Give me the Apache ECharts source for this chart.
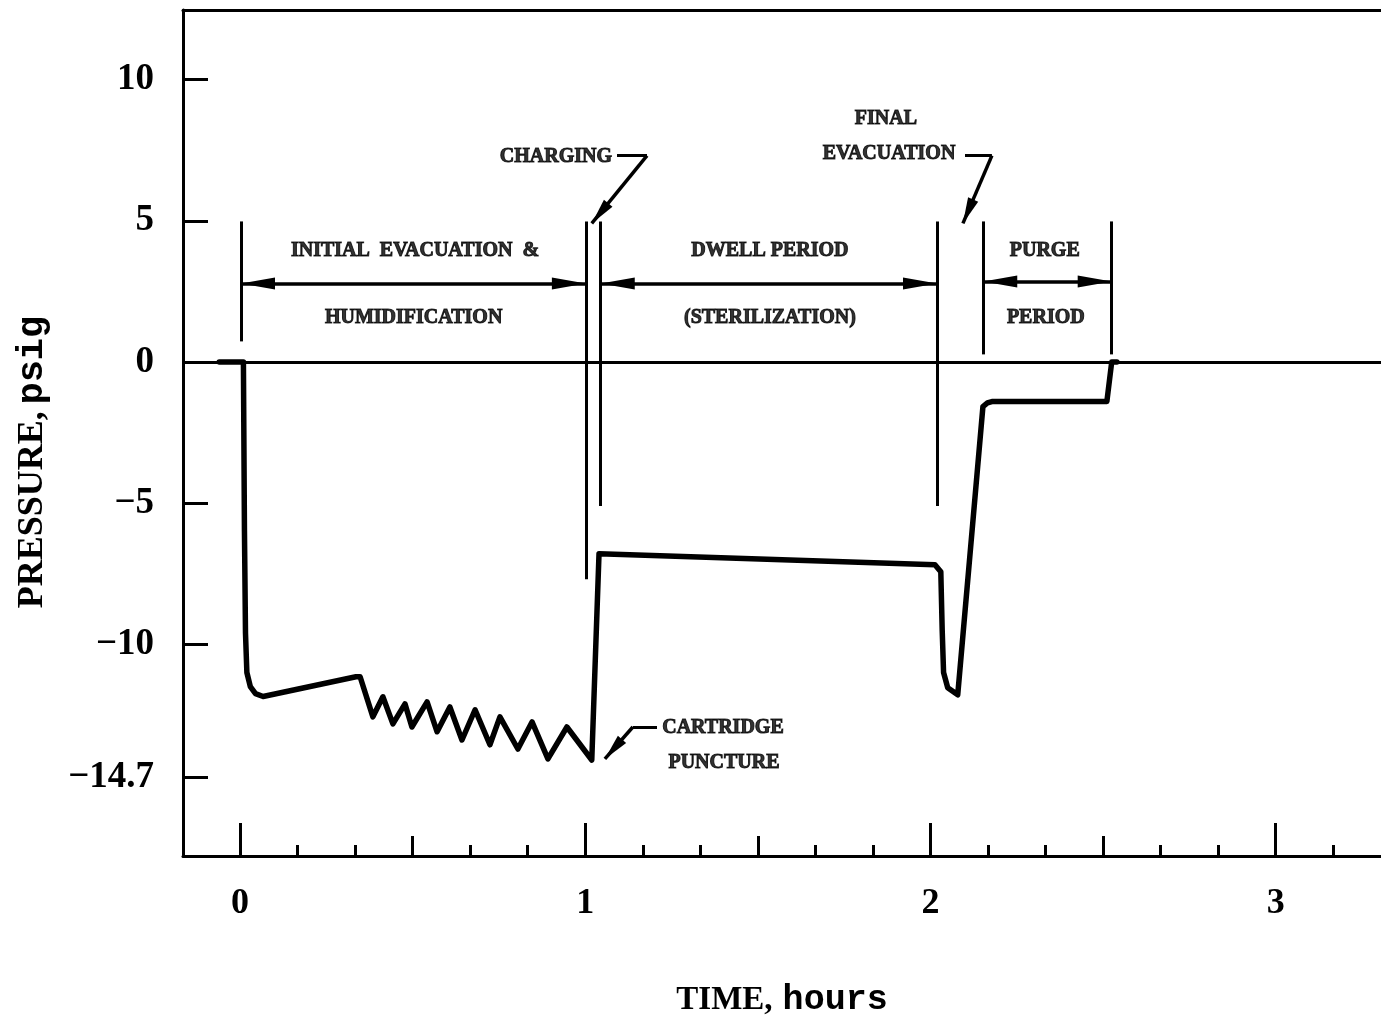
<!DOCTYPE html>
<html>
<head>
<meta charset="utf-8">
<script src="https://cdn.jsdelivr.net/npm/echarts@6/dist/echarts.min.js"></script>
<style>html,body{margin:0;padding:0;background:#fff}#chart{width:1381px;height:1020px}</style>
</head>
<body>
<div id="chart"></div>
<script>
// ---- data (time in hours, pressure in psig) ----
const timeHours = [-0.06, 0.010, 0.013, 0.016, 0.020, 0.030, 0.045, 0.067, 0.336, 0.348,
  0.385, 0.414, 0.443, 0.478, 0.498, 0.542, 0.571, 0.608, 0.643, 0.681,
  0.724, 0.753, 0.805, 0.846, 0.892, 0.947, 1.019, 1.040, 2.013, 2.030,
  2.034, 2.038, 2.050, 2.079, 2.152, 2.165, 2.178, 2.511, 2.525, 2.540];
const pressurePsig = [0, 0, -6.0, -9.6, -11.0, -11.5, -11.75, -11.85, -11.15, -11.15,
  -12.57, -11.86, -12.82, -12.11, -12.93, -12.04, -13.10, -12.22, -13.39, -12.32,
  -13.56, -12.57, -13.71, -12.75, -14.06, -12.93, -14.10, -6.79, -7.18, -7.43,
  -9.5, -11.0, -11.54, -11.79, -1.58, -1.45, -1.40, -1.40, 0, 0];

// ---- axis ticks / labels ----
const yTickLabels = [10, 5, 0, -5, -10, -14.7];
const yTickMarks = [10, 5, -5, -10, -14.7];
const xTickLabels = [0, 1, 2, 3];
const xHalfTicks = [0.5, 1.5, 2.5];
const xMinorTicks = [1/6, 2/6, 4/6, 5/6, 7/6, 8/6, 10/6, 11/6, 13/6, 14/6, 16/6, 17/6, 19/6];

// ---- annotations (data coordinates) ----
const phaseBounds = [ // [time, top, bottom]
  [0.003, 4.98, 0.73], [1.002, 4.98, -7.7], [1.045, 4.98, -5.1],
  [2.019, 4.98, -5.1], [2.153, 4.98, 0.27], [2.525, 4.98, 0.27]
];
const phaseArrows = [ // [from, to, level]
  [0.003, 1.002, 2.78], [1.045, 2.019, 2.78], [2.153, 2.525, 2.85]
];
const annotationTexts = [ // [text, time, level]
  ['INITIAL  EVACUATION  &', 0.507, 3.95], ['HUMIDIFICATION', 0.503, 1.58],
  ['DWELL PERIOD', 1.535, 3.95], ['(STERILIZATION)', 1.535, 1.58],
  ['PURGE', 2.331, 3.95], ['PERIOD', 2.334, 1.58],
  ['CHARGING', 0.915, 7.28], ['FINAL', 1.871, 8.62], ['EVACUATION', 1.880, 7.36],
  ['CARTRIDGE', 1.399, -12.96], ['PUNCTURE', 1.402, -14.2]
];
const calloutLeaders = [ // [corner, text end, arrow tip] as [time, level]
  [[1.179, 7.31], [1.092, 7.31], [1.019, 4.91]],
  [[2.178, 7.31], [2.100, 7.31], [2.094, 4.91]],
  [[1.138, -12.93], [1.208, -12.93], [1.057, -14.06]]
];

const X_MIN = -0.165, X_MAX = 3.305, Y_MIN = -17.5, Y_MAX = 12.47;
const ARROW = 'path://M5 0 L10 30 L0 30 Z';
const BLACK = '#000';
const serif = 'Liberation Serif';

function minusFmt(v) { return v < 0 ? '\u2212' + Math.abs(v) : String(v); }

const chart = echarts.init(document.getElementById('chart'), null, {renderer: 'canvas'});

const baseX = {type: 'value', min: X_MIN, max: X_MAX, gridIndex: 0, splitLine: {show: false}};

function arrowEnd(coord, w, h) {
  return {coord: coord, symbol: ARROW, symbolSize: [w, h], symbolOffset: [0, h / 2]};
}
function plainEnd(coord) {
  return {coord: coord, symbol: 'none'};
}

const option = {
  backgroundColor: '#fff',
  animation: false,
  grid: {left: 183, top: 10, right: 0, bottom: 164, containLabel: false, outerBoundsMode: 'none'},
  xAxis: [
    Object.assign({}, baseX, {
      position: 'bottom',
      axisLine: {show: true, onZero: false, lineStyle: {color: BLACK, width: 3}},
      axisTick: {show: true, inside: true, length: 33, customValues: xTickLabels, lineStyle: {color: BLACK, width: 3}},
      axisLabel: {show: true, customValues: xTickLabels, margin: 30, color: BLACK,
        fontFamily: serif, fontWeight: 'bold', fontSize: 36},
      name: '{s|TIME,}   {m|hours}', nameLocation: 'middle', nameGap: 127,
      nameTextStyle: {color: BLACK, rich: {
        s: {fontFamily: serif, fontWeight: 'bold', fontSize: 33, color: BLACK},
        m: {fontFamily: 'Liberation Mono', fontWeight: 'bold', fontSize: 35, color: BLACK}
      }}
    }),
    Object.assign({}, baseX, {
      position: 'bottom', axisLine: {show: false, onZero: false},
      axisTick: {show: true, inside: true, length: 20, customValues: xHalfTicks, lineStyle: {color: BLACK, width: 3}},
      axisLabel: {show: false}
    }),
    Object.assign({}, baseX, {
      position: 'bottom', axisLine: {show: false, onZero: false},
      axisTick: {show: true, inside: true, length: 11, customValues: xMinorTicks, lineStyle: {color: BLACK, width: 3}},
      axisLabel: {show: false}
    }),
    Object.assign({}, baseX, {
      position: 'top',
      axisLine: {show: true, onZero: false, lineStyle: {color: BLACK, width: 3}},
      axisTick: {show: false}, axisLabel: {show: false}
    })
  ],
  yAxis: {
    type: 'value', min: Y_MIN, max: Y_MAX, position: 'left',
    splitLine: {show: false},
    axisLine: {show: true, onZero: false, lineStyle: {color: BLACK, width: 3}},
    axisTick: {show: true, inside: true, length: 25, customValues: yTickMarks, lineStyle: {color: BLACK, width: 3}},
    axisLabel: {show: true, customValues: yTickLabels, margin: 29, color: BLACK,
      fontFamily: serif, fontWeight: 'bold', fontSize: 37, formatter: minusFmt},
    name: '{s|PRESSURE,}  {m|psig}', nameLocation: 'middle', nameRotate: 90, nameGap: 132,
    nameTextStyle: {color: BLACK, padding: [0, 58, 0, 0], rich: {
      s: {fontFamily: serif, fontWeight: 'bold', fontSize: 36, color: BLACK},
      m: {fontFamily: 'Liberation Mono', fontWeight: 'bold', fontSize: 37, color: BLACK}
    }}
  },
  series: [
    {
      type: 'line', xAxisIndex: 0, yAxisIndex: 0,
      data: timeHours.map((t, i) => [t, pressurePsig[i]]),
      showSymbol: false, symbol: 'none', silent: true, clip: true,
      lineStyle: {color: BLACK, width: 5.5, join: 'round', cap: 'round'},
      markLine: {
        silent: true, animation: false, symbol: ['none', 'none'], label: {show: false},
        lineStyle: {color: BLACK, width: 3, type: 'solid'}, emphasis: {disabled: true},
        data: [{yAxis: 0}].concat(
          phaseBounds.map(b => [{coord: [b[0], b[1]]}, {coord: [b[0], b[2]]}]),
          calloutLeaders.map(c => [{coord: c[0]}, {coord: c[1]}])
        )
      }
    },
    {
      type: 'line', xAxisIndex: 0, yAxisIndex: 0, data: [], silent: true,
      markLine: {
        silent: true, animation: false, symbol: [ARROW, ARROW],
        symbolSize: [12, 34],
        label: {show: false}, emphasis: {disabled: true},
        lineStyle: {color: BLACK, width: 3.5, type: 'solid'},
        itemStyle: {color: BLACK},
        data: phaseArrows.map(a => [arrowEnd([a[0], a[2]], 12, 34), arrowEnd([a[1], a[2]], 12, 34)])
      }
    },
    {
      type: 'line', xAxisIndex: 0, yAxisIndex: 0, data: [], silent: true,
      markLine: {
        silent: true, animation: false, symbol: ['none', ARROW],
        symbolSize: [11, 26],
        label: {show: false}, emphasis: {disabled: true},
        lineStyle: {color: BLACK, width: 3.5, type: 'solid'},
        itemStyle: {color: BLACK},
        data: calloutLeaders.map(c => [plainEnd(c[0]), arrowEnd(c[2], 11, 26)])
      }
    },
    {
      type: 'scatter', xAxisIndex: 0, yAxisIndex: 0, silent: true,
      symbolSize: 1, itemStyle: {color: 'rgba(0,0,0,0)'},
      data: annotationTexts.map(a => ({name: a[0], value: [a[1], a[2]]})),
      label: {show: true, position: 'inside', formatter: '{b}', color: BLACK,
        textBorderColor: BLACK, textBorderWidth: 1,
        fontFamily: serif, fontWeight: 'bold', fontSize: 20}
    }
  ]
};
chart.setOption(option);
</script>
</body>
</html>
